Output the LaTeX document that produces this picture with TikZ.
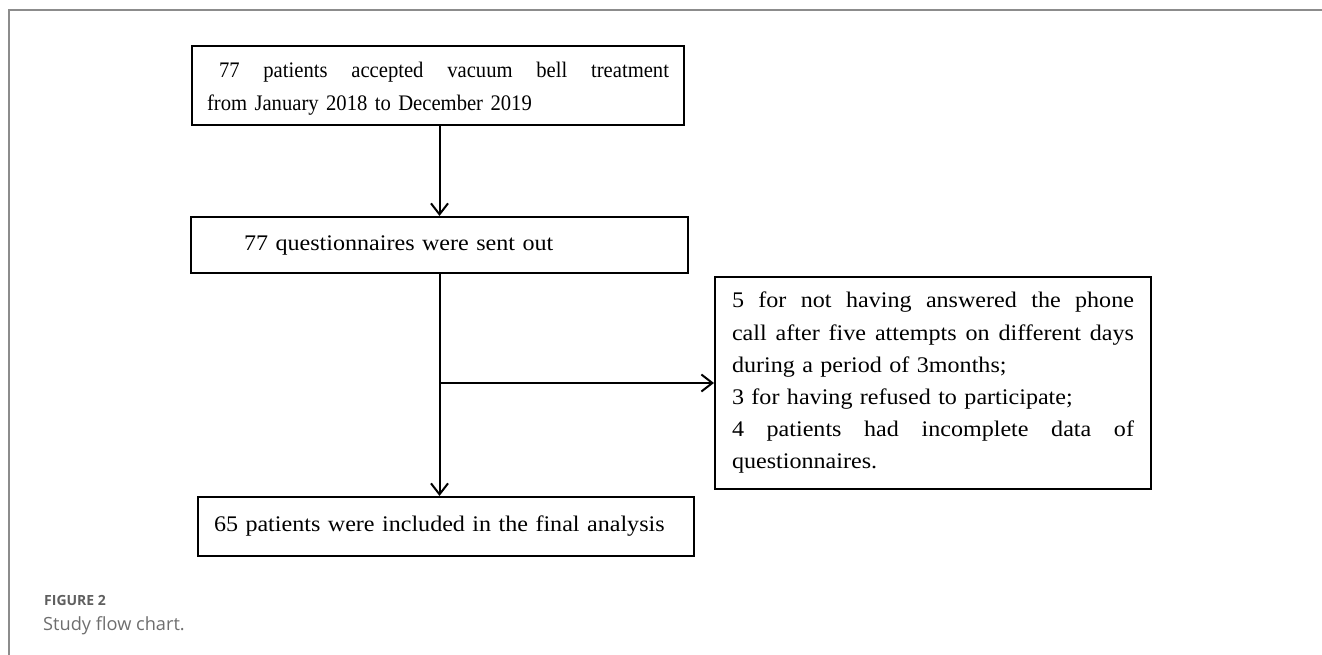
\documentclass[tikz,border=0pt]{standalone}
\usepackage{fontspec}
\setmainfont{Liberation Serif}[FakeStretch=1.08]
\newfontfamily\narrowserif{Liberation Serif}[FakeStretch=0.93]
\newfontfamily\captionfont{Open Sans}
\usepackage{xcolor}
\usepackage{tikz}
\usetikzlibrary{arrows.meta,positioning}
\definecolor{framegray}{RGB}{140,140,140}
\definecolor{labelgray}{RGB}{95,95,95}
\definecolor{captiongray}{RGB}{110,110,110}
% one line set out to a full width, spaces stretched
\newcommand{\spreadline}[2]{\leavevmode\hbox to #1{\spaceskip=0.25em plus 1fil\relax #2}}

\begin{document}
\begin{tikzpicture}[x=1pt, y=-1pt,
  every node/.style={inner sep=0pt, font=\fontsize{22.3}{32.2}\selectfont},
  flow_box/.style={draw, line width=2pt, align=left},
  top_box/.style={flow_box, font=\narrowserif\fontsize{22.2}{33}\selectfont},
  flow_arrow/.style={draw, line width=2pt, -{Straight Barb[length=11pt,width=17pt,line width=2pt]}},
  frame_line/.style={draw=framegray, line width=1.5pt},
]
\useasboundingbox (0,0) rectangle (1322,655);

% page frame
\draw[frame_line] (9,655) -- (9,10) -- (1322,10);

% boxes
\node[top_box, inner xsep=15pt, text width=462pt, minimum height=79pt] (start) at (438,85.5)
  {\spreadline{462pt}{\rule{0pt}{21pt}\hspace*{12pt}77 patients accepted vacuum bell treatment}\\
   from January 2018 to December 2019};
\node[flow_box, inner xsep=15pt, text width=467pt, minimum height=56pt] (sent) at (439.5,245)
  {\hspace*{38pt}77 questionnaires were sent out};
\node[flow_box, inner xsep=16pt, text width=464pt, minimum height=59pt] (final) at (446,526.5)
  {\mbox{65 patients were included in the final analysis}};
\node[flow_box, inner xsep=17pt, text width=402pt, minimum height=212pt] (excluded) at (933,383)
  {\spreadline{402pt}{5 for not having answered the phone}\\
   \spreadline{402pt}{call after five attempts on different days}\\
   during a period of 3months;\\
   3 for having refused to participate;\\
   \spreadline{402pt}{4 patients had incomplete data of}\\
   questionnaires.};

% connectors
\draw[flow_arrow] (sent.north |- start.south) -- (sent.north);
\draw[flow_arrow] (sent.south) -- (sent.south |- final.north);
\coordinate (split) at (sent.south |- excluded.west);
\draw[flow_arrow] (split) -- (excluded.west);

% caption
\node[anchor=base west, text=labelgray, font=\captionfont\bfseries\fontsize{14}{16}\selectfont] (figlabel) at (44,605) {FIGURE 2};
\node[anchor=base west, text=captiongray, font=\captionfont\fontsize{18.2}{21}\selectfont] (figtitle) at (43,630) {Study flow chart.};
\end{tikzpicture}
\end{document}
